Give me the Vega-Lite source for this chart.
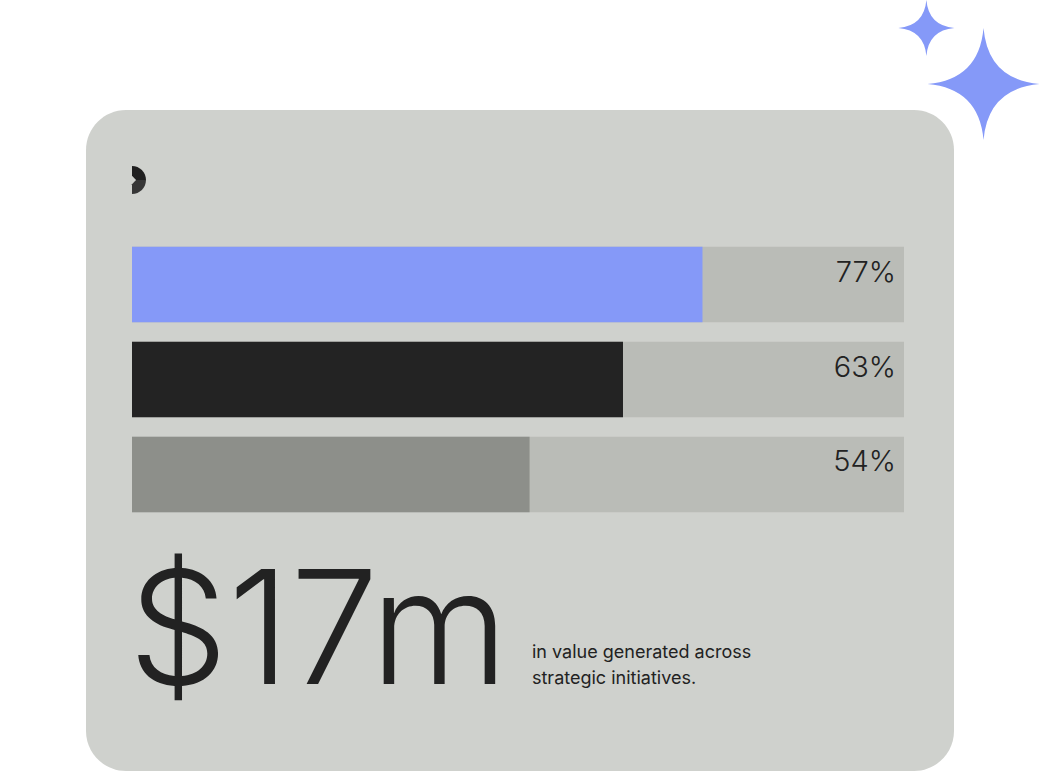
{
  "$schema": "https://vega.github.io/schema/vega-lite/v6.json",
  "autosize": {"type": "none"},
  "width": 868,
  "height": 661,
  "padding": {"left": 86, "top": 110, "right": 100, "bottom": 1},
  "background": "white",
  "config": {
    "view": {"fill": "#cfd1cd", "stroke": null, "cornerRadius": 40},
    "text": {"font": "Inter", "color": "#222222"}
  },
  "datasets": {
    "bars": [
      {"initiative": "Initiative A", "share": 73.9, "full": 100, "label": "77%"},
      {"initiative": "Initiative B", "share": 63.6, "full": 100, "label": "63%"},
      {"initiative": "Initiative C", "share": 51.5, "full": 100, "label": "54%"}
    ],
    "summary": [
      {"headline": "$17m", "caption": ["in value generated across", "strategic initiatives."]}
    ]
  },
  "resolve": {"scale": {"y": "independent"}},
  "layer": [
    {
      "data": {"name": "bars"},
      "mark": {"type": "bar", "color": "#babcb7"},
      "encoding": {
        "x": {"field": "full", "type": "quantitative", "scale": {"domain": [-5.9585, 106.477], "nice": false, "zero": false}, "axis": null},
        "y": {"field": "initiative", "type": "nominal", "sort": null, "scale": {"type": "band", "range": [136.7, 402.3], "paddingInner": 0.204, "paddingOuter": 0}, "axis": null}
      }
    },
    {
      "data": {"name": "bars"},
      "mark": {"type": "bar"},
      "encoding": {
        "x": {"field": "share", "type": "quantitative", "axis": null},
        "y": {"field": "initiative", "type": "nominal", "sort": null, "scale": {"type": "band", "range": [136.7, 402.3], "paddingInner": 0.204, "paddingOuter": 0}, "axis": null},
        "color": {"field": "initiative", "type": "nominal", "scale": {"domain": ["Initiative A", "Initiative B", "Initiative C"], "range": ["#8599f8", "#232323", "#8d8f8a"]}, "legend": null}
      }
    },
    {
      "data": {"name": "bars"},
      "mark": {"type": "text", "align": "right", "baseline": "alphabetic", "dx": -8, "dy": -3, "fontSize": 29, "fontWeight": 300},
      "encoding": {
        "x": {"field": "full", "type": "quantitative", "axis": null},
        "y": {"field": "initiative", "type": "nominal", "sort": null, "scale": {"type": "band", "range": [136.7, 402.3], "paddingInner": 0.204, "paddingOuter": 0}, "axis": null},
        "text": {"field": "label", "type": "nominal"}
      }
    },
    {
      "data": {"name": "summary"},
      "mark": {"type": "text", "align": "left", "baseline": "alphabetic", "fontSize": 158, "fontWeight": 340},
      "encoding": {
        "x": {"datum": -0.5, "type": "quantitative", "axis": null},
        "y": {"datum": 86.84, "type": "quantitative", "scale": {"domain": [0, 100], "reverse": true, "nice": false, "zero": false}, "axis": null},
        "text": {"field": "headline", "type": "nominal"}
      }
    },
    {
      "data": {"name": "summary"},
      "mark": {"type": "text", "align": "left", "baseline": "alphabetic", "fontSize": 18, "lineHeight": 26, "fontWeight": 400},
      "encoding": {
        "x": {"datum": 51.81, "type": "quantitative", "axis": null},
        "y": {"datum": 82.95, "type": "quantitative", "scale": {"domain": [0, 100], "reverse": true, "nice": false, "zero": false}, "axis": null},
        "text": {"field": "caption", "type": "nominal"}
      }
    },
    {
      "data": {"values": [{"part": "logo top"}]},
      "mark": {"type": "point", "filled": true, "opacity": 1, "color": "#1f1f1f", "size": 784, "shape": "M0,-1 C0.5523,-1 1,-0.5523 1,0 L0.29,0 L0,-0.3 Z"},
      "encoding": {
        "x": {"datum": 0, "type": "quantitative", "axis": null},
        "y": {"datum": 10.59, "type": "quantitative", "scale": {"domain": [0, 100], "reverse": true, "nice": false, "zero": false}, "axis": null}
      }
    },
    {
      "data": {"values": [{"part": "logo bottom"}]},
      "mark": {"type": "point", "filled": true, "opacity": 1, "color": "#363636", "size": 784, "shape": "M1,0 C1,0.5523 0.5523,1 0,1 L0,0.3 L0.29,0 Z"},
      "encoding": {
        "x": {"datum": 0, "type": "quantitative", "axis": null},
        "y": {"datum": 10.59, "type": "quantitative", "scale": {"domain": [0, 100], "reverse": true, "nice": false, "zero": false}, "axis": null}
      }
    },
    {
      "data": {"values": [{"part": "sparkle small"}]},
      "mark": {"type": "point", "filled": true, "opacity": 1, "color": "#8599f8", "size": 3136, "shape": "M0,-1 Q0.08,-0.08 1,0 Q0.08,0.08 0,1 Q-0.08,0.08 -1,0 Q-0.08,-0.08 0,-1 Z"},
      "encoding": {
        "x": {"datum": 102.9, "type": "quantitative", "axis": null},
        "y": {"datum": -12.41, "type": "quantitative", "scale": {"domain": [0, 100], "reverse": true, "nice": false, "zero": false}, "axis": null}
      }
    },
    {
      "data": {"values": [{"part": "sparkle big"}]},
      "mark": {"type": "point", "filled": true, "opacity": 1, "color": "#8599f8", "size": 12544, "shape": "M0,-1 Q0.08,-0.08 1,0 Q0.08,0.08 0,1 Q-0.08,0.08 -1,0 Q-0.08,-0.08 0,-1 Z"},
      "encoding": {
        "x": {"datum": 110.3, "type": "quantitative", "axis": null},
        "y": {"datum": -3.93, "type": "quantitative", "scale": {"domain": [0, 100], "reverse": true, "nice": false, "zero": false}, "axis": null}
      }
    }
  ]
}
